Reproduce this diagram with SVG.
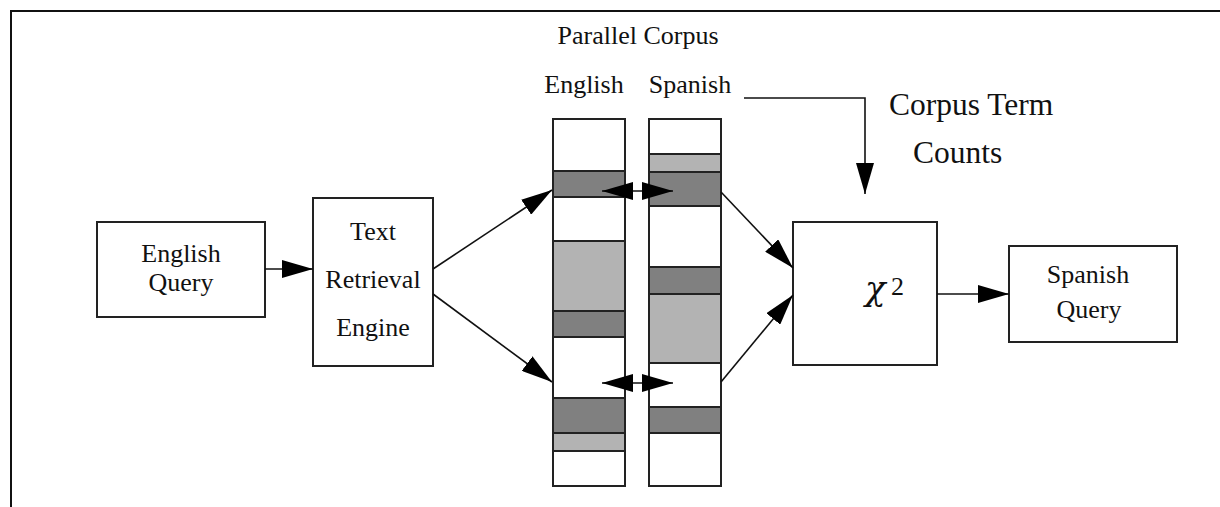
<svg xmlns="http://www.w3.org/2000/svg" width="1220" height="507" viewBox="0 0 1220 507">
<defs>
<style>
.box{fill:#fff;stroke:#222;stroke-width:2}
.col{fill:#fff;stroke:#222;stroke-width:2}
.dk{fill:#808080;stroke:#222;stroke-width:2}
.lt{fill:#b3b3b3;stroke:#222;stroke-width:2}
.ln{fill:none;stroke:#111;stroke-width:1.6}
.t{font-family:"Liberation Serif","Times New Roman",serif;font-size:26px;fill:#111;text-anchor:middle}
.big{font-family:"Liberation Serif","Times New Roman",serif;font-size:31.5px;fill:#111}
.chi{font-family:"DejaVu Serif","Liberation Serif",serif;font-style:italic;font-size:34px;fill:#111}
.sup{font-family:"Liberation Serif","Times New Roman",serif;font-size:26px;fill:#111}
</style>
<marker id="ah" markerUnits="userSpaceOnUse" markerWidth="31" markerHeight="18" refX="31" refY="9" orient="auto-start-reverse" viewBox="0 0 31 18">
<path d="M0,0 L31,9 L0,18 Z" fill="#000"/>
</marker>
</defs>
<rect width="1220" height="507" fill="#fff"/>
<g id="frame">
<path d="M11,507 V11 H1220" fill="none" stroke="#111" stroke-width="2"/>
</g>
<g id="title">
<text class="t" x="638" y="44">Parallel Corpus</text>
</g>
<g id="english-query">
<rect class="box" x="97" y="222" width="168" height="95"/>
<text class="t" x="181" y="262">English</text>
<text class="t" x="181" y="291">Query</text>
</g>
<g id="text-retrieval-engine">
<rect class="box" x="313" y="198" width="120" height="168"/>
<text class="t" x="373" y="240">Text</text>
<text class="t" x="373" y="288">Retrieval</text>
<text class="t" x="373" y="336">Engine</text>
</g>
<g id="english-column">
<text class="t" x="584" y="93">English</text>
<rect class="col" x="553" y="119" width="72" height="367"/>
<rect class="dk" x="553" y="171" width="72" height="26"/>
<rect class="lt" x="553" y="241" width="72" height="70"/>
<rect class="dk" x="553" y="311" width="72" height="26"/>
<rect class="dk" x="553" y="398" width="72" height="35"/>
<rect class="lt" x="553" y="433" width="72" height="18"/>
</g>
<g id="spanish-column">
<text class="t" x="690" y="93">Spanish</text>
<rect class="col" x="649" y="119" width="72" height="367"/>
<rect class="lt" x="649" y="154" width="72" height="18"/>
<rect class="dk" x="649" y="172" width="72" height="34"/>
<rect class="dk" x="649" y="267" width="72" height="27"/>
<rect class="lt" x="649" y="294" width="72" height="69"/>
<rect class="dk" x="649" y="407" width="72" height="26"/>
</g>
<g id="chi-square">
<rect class="box" x="793" y="222" width="144" height="143"/>
<text class="chi" x="865" y="300">χ</text>
<text class="sup" x="891" y="295">2</text>
</g>
<g id="corpus-term-counts">
<text class="big" x="889" y="115">Corpus Term</text>
<text class="big" x="913" y="163">Counts</text>
</g>
<g id="spanish-query">
<rect class="box" x="1009" y="246" width="168" height="96"/>
<text class="t" x="1088" y="283">Spanish</text>
<text class="t" x="1089" y="318">Query</text>
</g>
<g id="connectors">
<line class="ln" x1="265" y1="269" x2="313" y2="269" marker-end="url(#ah)"/>
<line class="ln" x1="433" y1="269" x2="552" y2="190" marker-end="url(#ah)"/>
<line class="ln" x1="433" y1="294" x2="552" y2="382" marker-end="url(#ah)"/>
<line class="ln" x1="602" y1="191" x2="673" y2="191" marker-start="url(#ah)" marker-end="url(#ah)"/>
<line class="ln" x1="602" y1="383" x2="673" y2="383" marker-start="url(#ah)" marker-end="url(#ah)"/>
<line class="ln" x1="721" y1="192" x2="793" y2="268" marker-end="url(#ah)"/>
<line class="ln" x1="721" y1="382" x2="793" y2="295" marker-end="url(#ah)"/>
<polyline class="ln" points="744,98 865,98 865,194" marker-end="url(#ah)"/>
<line class="ln" x1="937" y1="294" x2="1009" y2="294" marker-end="url(#ah)"/>
</g>
</svg>
